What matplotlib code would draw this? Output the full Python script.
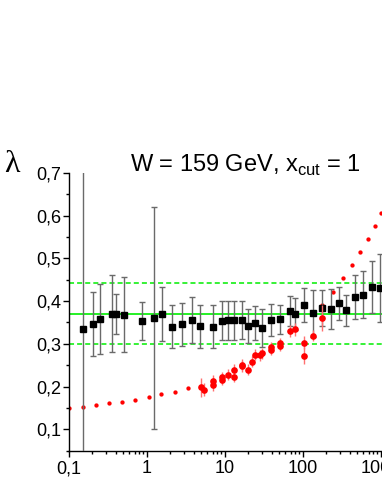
import matplotlib
matplotlib.use('Agg')
from matplotlib import pyplot as plt
from matplotlib.ticker import FixedLocator, LogLocator, MultipleLocator, NullFormatter

plt.rcParams['font.family'] = ['Liberation Sans', 'DejaVu Sans']
plt.rcParams['mathtext.fontset'] = 'custom'
plt.rcParams['mathtext.rm'] = 'Liberation Sans'

# black squares (lambda, data)
black_x = [0.151, 0.203, 0.252, 0.359, 0.404, 0.516, 0.879, 1.24, 1.585, 2.13,
           2.86, 3.78, 4.87, 7.08, 9.31, 11.0, 13.3, 16.7, 20.1, 24.5,
           30.3, 39.6, 51.1, 68.1, 79.6, 103, 137, 175, 233, 295,
           356, 472, 598, 780, 970]
black_y = [0.335, 0.347, 0.358, 0.370, 0.370, 0.368, 0.353, 0.361, 0.370, 0.340,
           0.346, 0.356, 0.341, 0.340, 0.354, 0.355, 0.355, 0.356, 0.342, 0.348,
           0.337, 0.356, 0.357, 0.376, 0.370, 0.390, 0.372, 0.384, 0.381, 0.395,
           0.378, 0.409, 0.415, 0.433, 0.431]
black_err = [0.6, 0.075, 0.082, 0.09, 0.046, 0.088, 0.044, 0.26, 0.063, 0.05,
             0.05, 0.053, 0.05, 0.05, 0.045, 0.045, 0.045, 0.045, 0.04, 0.04,
             0.045, 0.038, 0.034, 0.035, 0.037, 0.04, 0.055, 0.043, 0.047, 0.039,
             0.037, 0.051, 0.055, 0.061, 0.08]

# red circles
red_x = [4.9, 5.4, 7.0, 7.0, 9.3, 9.3, 11.1, 13.3, 13.3, 16.7, 16.7, 20.1, 22.4,
         24.6, 28.4, 30.4, 39.3, 39.3, 51.1, 51.1, 68.5, 79, 104, 104, 137, 175]
red_y = [0.198, 0.193, 0.203, 0.214, 0.216, 0.222, 0.228, 0.223, 0.239, 0.247,
         0.251, 0.239, 0.258, 0.275, 0.273, 0.278, 0.286, 0.292, 0.296, 0.301,
         0.330, 0.334, 0.303, 0.272, 0.319, 0.360]
red_err = [0.022, 0.015, 0.013, 0.013, 0.013, 0.013, 0.013, 0.013, 0.013, 0.013,
           0.013, 0.013, 0.013, 0.013, 0.013, 0.013, 0.013, 0.013, 0.013, 0.013,
           0.015, 0.015, 0.015, 0.02, 0.013, 0.03]

# red dotted curve (visible dots)
curve_x = [0.1, 0.151, 0.222, 0.329, 0.486, 0.714, 1.06, 1.54, 2.31, 3.39,
           175, 247, 326, 433, 543, 688, 854, 1018]
curve_y = [0.151, 0.153, 0.157, 0.161, 0.165, 0.169, 0.175, 0.182, 0.188, 0.197,
           0.391, 0.422, 0.454, 0.484, 0.514, 0.545, 0.576, 0.607]

lam_mean = 0.370
lam_band = [0.300, 0.442]

x_ticks = [0.1, 1, 10, 100, 1000]
x_labels = ['0,1', '1', '10', '100', '1000']
y_ticks = [0.1, 0.2, 0.3, 0.4, 0.5, 0.6, 0.7]

fig = plt.figure(figsize=(3.82, 4.94), dpi=100)
ax = fig.add_axes([68.7 / 382, 43.3 / 494, 390 / 382, 277.9 / 494])

ax.axhline(lam_mean, color='#00ee00', lw=1.2, zorder=1)
for v in lam_band:
    ax.axhline(v, color='#00ee00', lw=1.1, dashes=(3.3, 2), zorder=1)

ax.plot(curve_x, curve_y, 'o', color='red', ms=3.1, mew=0, zorder=2)

ax.errorbar(black_x, black_y, yerr=black_err, fmt='s', color='black', ms=4.4,
            ecolor='#6a6a6a', elinewidth=1, capsize=2, capthick=1, zorder=3)
ax.errorbar(red_x, red_y, yerr=red_err, fmt='o', color='red', ms=4.8, mew=0,
            ecolor='#ff7070', elinewidth=1, capsize=2, capthick=1, zorder=4)

ax.set_xscale('log')
ax.set_xlim(0.1, 1e4)
ax.set_ylim(0.05, 0.7)

ax.xaxis.set_major_locator(FixedLocator(x_ticks))
ax.set_xticklabels(x_labels)
ax.xaxis.set_minor_locator(LogLocator(base=10, subs=range(2, 10)))
ax.xaxis.set_minor_formatter(NullFormatter())
ax.set_yticks(y_ticks)
ax.set_yticklabels([('%.1f' % v).replace('.', ',') for v in y_ticks])
ax.yaxis.set_minor_locator(MultipleLocator(0.05))

ax.tick_params(which='major', direction='out', length=4, width=1, labelsize=13)
ax.tick_params(which='minor', direction='out', length=2, width=1)
ax.tick_params(axis='y', pad=1.5)
ax.tick_params(axis='x', pad=3)

ax.spines['top'].set_visible(False)
ax.spines['right'].set_visible(False)
ax.spines['left'].set_linewidth(1)
ax.spines['bottom'].set_linewidth(1)

fig.text(245 / 382, (494 - 171.7) / 494, r'W = 159 GeV, x$_{\mathregular{cut}}$ = 1',
         ha='center', va='baseline', fontsize=17)
fig.text(11.5 / 382, (494 - 171.7) / 494, 'λ', ha='center', va='baseline',
         fontsize=23, family=['Liberation Serif', 'DejaVu Serif'])

fig.savefig('out.png', dpi=100)
